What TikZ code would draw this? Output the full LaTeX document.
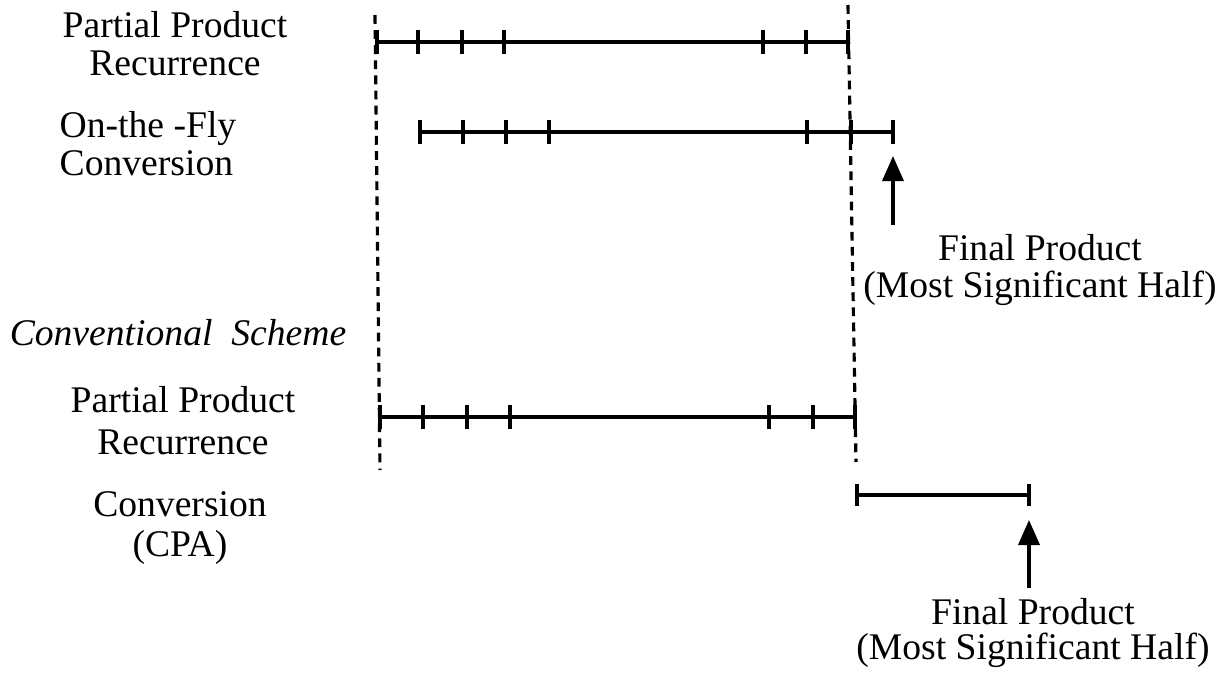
\documentclass[tikz,border=0pt]{standalone}
\usepackage{fontspec}
\setmainfont{Liberation Serif}
\usetikzlibrary{arrows.meta}

\begin{document}
\begin{tikzpicture}[x=0.01cm, y=-0.01cm,
        txt/.style={align=center, inner sep=0pt, font=\fontsize{10.7}{10.8}\selectfont},
        bar/.style={line width=1.1pt},
        guide/.style={line width=0.9pt, dash pattern=on 2.5pt off 1.8pt},
        up/.style={line width=1pt, -{Triangle[width=2.1mm, length=2.5mm]}}]
        \useasboundingbox (0,0) rectangle (1220,676);

        % Labels
        \node[txt] (pprA) at (175,44) {Partial Product\\Recurrence};
        \node[txt, align=left] (otf) at (148,144) {On-the -Fly\\Conversion};
        \node[txt, font=\fontsize{10.7}{10.8}\selectfont\itshape] (conv) at (178,333) {Conventional\ \ Scheme};
        \node[txt, font=\fontsize{10.7}{12}\selectfont] (pprB) at (183,421) {Partial Product\\Recurrence};
        \node[txt, font=\fontsize{10.7}{11.6}\selectfont] (cpa) at (180,528) {Conversion\\(CPA)};
        \node[txt] (finA) at (1040,270) {Final Product\\(Most Significant Half)};
        \node[txt, font=\fontsize{10.7}{10}\selectfont] (finB) at (1033,633) {Final Product\\(Most Significant Half)};

        % Bar end points
        \coordinate (a0) at (377,42);  \coordinate (a1) at (848,42);
        \coordinate (b0) at (420,132); \coordinate (b1) at (893,132);
        \coordinate (c0) at (380,417); \coordinate (c1) at (855,417);
        \coordinate (d0) at (857,495); \coordinate (d1) at (1029,495);

        % Bars
        \draw[bar] (a0) -- (a1);
        \draw[bar] (b0) -- (b1);
        \draw[bar] (c0) -- (c1);
        \draw[bar] (d0) -- (d1);

        % Ticks
        \foreach \x in {377,418,462,504,763,806,848}
            \draw[bar] (\x,30) -- (\x,54);
        \foreach \x in {420,463,506,549,807,851,893}
            \draw[bar] (\x,120) -- (\x,144);
        \foreach \x in {380,423,467,510,769,813,855}
            \draw[bar] (\x,405) -- (\x,429);
        \foreach \x in {857,1029}
            \draw[bar] (\x,484) -- (\x,506);

        % Dashed guides
        \coordinate (gl0) at (375,15);  \coordinate (gl1) at (380,470);
        \coordinate (gr0) at (848,5);   \coordinate (gr1) at (856,462);
        \draw[guide] (gl0) -- (gl1);
        \draw[guide] (gr0) -- (gr1);

        % Arrows
        \coordinate (ua0) at (893,225); \coordinate (ua1) at (893,156);
        \coordinate (ub0) at (1029,588); \coordinate (ub1) at (1029,520);
        \draw[up] (ua0) -- (ua1);
        \draw[up] (ub0) -- (ub1);
    \end{tikzpicture}
\end{document}
